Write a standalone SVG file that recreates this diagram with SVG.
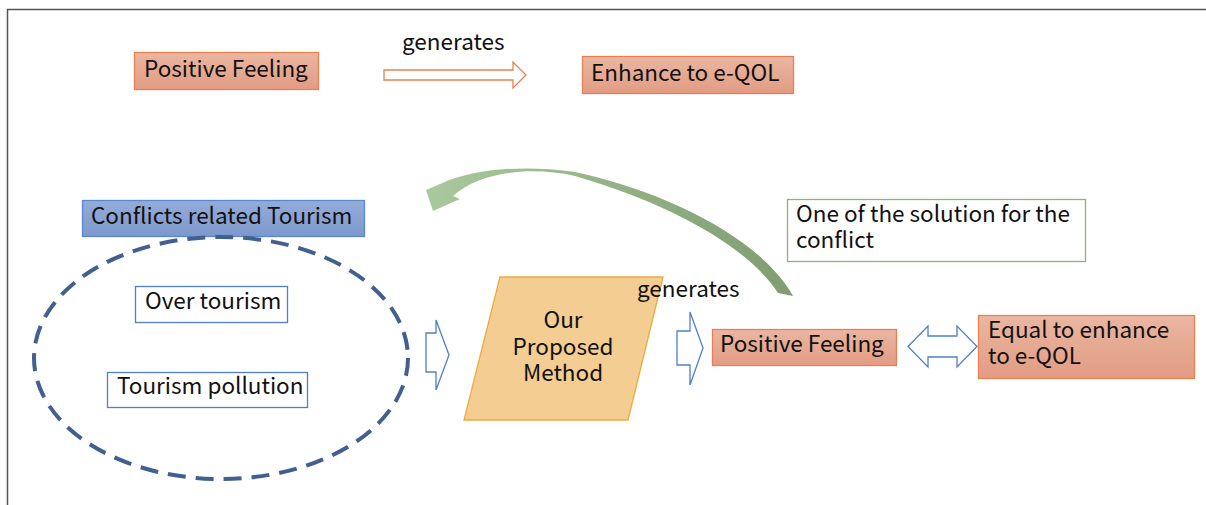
<svg xmlns="http://www.w3.org/2000/svg" width="1206" height="505" viewBox="0 0 1206 505">
  <defs>
    <linearGradient id="salmon" x1="0" y1="0" x2="0" y2="1">
      <stop offset="0" stop-color="#eab6a2"/>
      <stop offset="1" stop-color="#e29c83"/>
    </linearGradient>
    <linearGradient id="blue" x1="0" y1="0" x2="0" y2="1">
      <stop offset="0" stop-color="#94acd9"/>
      <stop offset="1" stop-color="#7e98cc"/>
    </linearGradient>
    <linearGradient id="green" x1="0" y1="0" x2="1" y2="0">
      <stop offset="0" stop-color="#a9c89b"/>
      <stop offset="1" stop-color="#7f9d70"/>
    </linearGradient>
    <style>
      text { font-family: "Noto Sans CJK JP", "Noto Sans", sans-serif; font-size: 22.5px; fill: #111; }
      .warm { fill: url(#salmon); stroke: #e8814f; stroke-width: 1.3; }
      .plain { fill: #fff; stroke: #4f7fcb; stroke-width: 1.3; }
      .hollow { fill: #fff; stroke: #4f7fcb; stroke-width: 1.3; stroke-linejoin: miter; }
    </style>
  </defs>

  <!-- frame: top and left edges only -->
  <path d="M7.5,505 V9.5 H1206" fill="none" stroke="#555" stroke-width="1.5"/>

  <g id="top-positive-feeling">
    <rect class="warm" x="134.5" y="52.5" width="184" height="37"/>
    <text x="144" y="77">Positive Feeling</text>
  </g>

  <g id="top-enhance">
    <rect class="warm" x="582.5" y="56.5" width="211" height="37"/>
    <text x="591" y="81">Enhance to e-QOL</text>
  </g>

  <g id="conflicts-title">
    <rect x="82.5" y="200.5" width="282" height="36" fill="url(#blue)" stroke="#5b86d0" stroke-width="1.3"/>
    <text x="91" y="224">Conflicts related Tourism</text>
  </g>

  <g id="conflicts-group">
    <ellipse cx="221" cy="358" rx="187" ry="121" fill="none" stroke="#42608f" stroke-width="4" stroke-dasharray="18 10"/>
  </g>

  <g id="over-tourism">
    <rect class="plain" x="135.5" y="286.5" width="152" height="36"/>
    <text x="145" y="309">Over tourism</text>
  </g>

  <g id="tourism-pollution">
    <rect class="plain" x="107.5" y="372.5" width="200" height="35"/>
    <text x="117" y="394">Tourism pollution</text>
  </g>

  <g id="proposed-method">
    <polygon points="500,277 663,277 628,420 464,420" fill="#f3cd92" stroke="#efaa3c" stroke-width="1.3"/>
    <text x="563" y="328" text-anchor="middle">Our</text>
    <text x="563" y="355" text-anchor="middle">Proposed</text>
    <text x="563" y="381" text-anchor="middle">Method</text>
  </g>

  <g id="solution-note">
    <rect x="787.5" y="199.5" width="298" height="62" fill="#fff" stroke="#8db36f" stroke-width="1.3"/>
    <text x="796" y="222">One of the solution for the</text>
    <text x="796" y="248">conflict</text>
  </g>

  <g id="positive-feeling">
    <rect class="warm" x="712.5" y="329.5" width="184" height="36"/>
    <text x="720" y="352">Positive Feeling</text>
  </g>

  <g id="equal-enhance">
    <rect class="warm" x="978.5" y="315.5" width="216" height="63"/>
    <text x="988" y="338">Equal to enhance</text>
    <text x="988" y="364">to e-QOL</text>
  </g>

  <g id="connectors">
    <!-- top: Positive Feeling generates Enhance -->
    <text x="402" y="50">generates</text>
    <polygon points="384,70 513,70 513,62 526,75 513,88 513,80 384,80" fill="#fff" stroke="#e8814f" stroke-width="1.3"/>

    <!-- conflicts into method -->
    <polygon class="hollow" points="426,333 436,333 436,320 449,355 436,390 436,372 426,372"/>

    <!-- method generates positive feeling -->
    <text x="637" y="297">generates</text>
    <polygon class="hollow" points="677,331 690,331 690,312 703,348 690,385 690,365 677,365"/>

    <!-- positive feeling equals enhanced e-QOL -->
    <polygon class="hollow" points="908,346.5 928,326 928,336 957,336 957,326 977,346.5 957,367 957,357 928,357 928,367"/>

    <!-- feedback: the method resolves the conflict -->
    <path d="M440,184 C470,170 520,164 575,172 C680,195 765,245 793,296 L778,293 C750,250 680,207 575,176 C530,166 480,172 453,196 L460,199 L433,211 L426,190 Z" fill="url(#green)"/>
  </g>
</svg>
